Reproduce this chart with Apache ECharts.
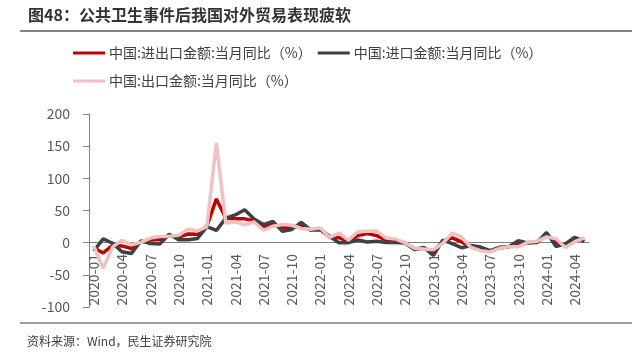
<!DOCTYPE html>
<html>
<head>
<meta charset="utf-8">
<script src="https://cdn.jsdelivr.net/npm/echarts@6/dist/echarts.min.js"></script>
<style>
  html, body { margin: 0; padding: 0; background: #fff; }
  #chart { width: 637px; height: 353px; }
</style>
</head>
<body>
<div id="chart"></div>
<script>
// 月份 2020-01 ~ 2024-05
const months = []
for (let y = 2020; y <= 2024; y++) {
  for (let m = 1; m <= 12; m++) {
    if (y === 2024 && m > 5) break
    months.push(y + '-' + String(m).padStart(2, '0'))
  }
}

const seriesNames = ['中国:进出口金额:当月同比（%）', '中国:进口金额:当月同比（%）', '中国:出口金额:当月同比（%）']

// 进出口
const totalYoy = [
  -8, -16, -4, -5, -9, 1, 4, 5, 11, 8.5, 13.5, 13,
  26, 68, 38, 37, 37, 34, 25, 29, 23, 24, 26, 20,
  22, 8, 8, 2, 11, 14, 11, 4, 3.4, -0.4, -9.5, -8.9,
  -14, 2, 7.4, 1.1, -6.2, -10, -13.6, -8.2, -6.2, -2.4, 0, 1.4,
  12, 1, -5.1, 4.4, 5.2
]
// 进口
const importYoy = [
  -13, 6, -0.9, -14.2, -16.7, 2.7, -1.4, -2.1, 13.2, 4.7, 4.5, 6.5,
  25, 19, 38.1, 43.1, 51.1, 36.7, 28.1, 33.1, 17.6, 20.6, 31.7, 19.5,
  20, 10, -0.1, 0, 4.1, 1, 2.3, 0.3, 0.3, -0.7, -10.6, -7.5,
  -20, 4, -1.4, -7.9, -4.5, -6.8, -12.4, -7.3, -6.2, 3, -0.6, 0.2,
  16, -6, -1.9, 8.4, 1.8
]
// 出口
const exportYoy = [
  -5, -40, -6.6, 3.5, -3.3, 0.5, 7.2, 9.5, 9.9, 11.4, 21.1, 18.1,
  25, 155, 30.6, 32.3, 27.9, 32.2, 19.3, 25.6, 28.1, 27.1, 22, 20.9,
  23, 8, 14.7, 3.9, 16.9, 17.9, 18, 7.1, 5.7, -0.3, -8.7, -9.9,
  -11, -1, 14.8, 8.5, -7.5, -12.4, -14.5, -8.8, -6.2, -6.4, 0.5, 2.3,
  9, 6, -7.5, 1.5, 7.6
]

const yTicks = { min: -100, max: 200, interval: 50 }
const colors = ['#c00000', '#404040', '#efc1c1']
const font = "'Noto Sans CJK SC', 'Noto Sans', sans-serif"

const chart = echarts.init(document.getElementById('chart'))

const legendBase = {
  left: 73,
  padding: 0,
  icon: 'rect',
  itemWidth: 32,
  itemHeight: 3,
  itemGap: 6,
  textStyle: { color: '#404040', fontSize: 14, fontFamily: font, padding: [0, 0, 0, -1] }
}

chart.setOption({
  animation: false,
  textStyle: { fontFamily: font },
  title: {
    text: '图48：公共卫生事件后我国对外贸易表现疲软',
    left: 23,
    top: 2,
    textStyle: { fontSize: 16, fontWeight: 'bold', color: '#333', fontFamily: font }
  },
  graphic: [
    { type: 'line', shape: { x1: 20, y1: 31, x2: 632, y2: 31 }, style: { stroke: '#595959', lineWidth: 1.5 } },
    { type: 'line', shape: { x1: 20, y1: 323, x2: 632, y2: 323 }, style: { stroke: '#7f7f7f', lineWidth: 1.5 } },
    {
      type: 'text', left: 27, top: 335,
      style: { text: '资料来源：Wind，民生证券研究院', fontSize: 12, fill: '#404040', fontFamily: font }
    }
  ],
  legend: [
    Object.assign({ top: 46, data: seriesNames.slice(0, 2) }, legendBase),
    Object.assign({ top: 74, data: seriesNames.slice(2) }, legendBase)
  ],
  grid: { left: 89, right: 48, top: 114, bottom: 46, outerBoundsMode: 'none' },
  xAxis: {
    type: 'category',
    data: months,
    boundaryGap: true,
    axisLine: { onZero: true, lineStyle: { color: '#808080', width: 1 } },
    axisTick: { interval: 2, length: 5, lineStyle: { color: '#808080' } },
    // 标签贴着零轴（按网格底边计算偏移）
    axisLabel: { interval: 2, rotate: 90, margin: -53, color: '#595959', fontSize: 14, fontFamily: font }
  },
  yAxis: {
    type: 'value',
    min: yTicks.min,
    max: yTicks.max,
    interval: yTicks.interval,
    splitLine: { show: false },
    axisLine: { show: true, lineStyle: { color: '#808080', width: 1 } },
    axisTick: { show: true, length: 6, lineStyle: { color: '#808080' } },
    axisLabel: { margin: 19, color: '#595959', fontSize: 14, fontFamily: font }
  },
  series: [
    { name: seriesNames[0], type: 'line', data: totalYoy, showSymbol: false, lineStyle: { width: 3.5, color: colors[0] }, itemStyle: { color: colors[0] } },
    { name: seriesNames[1], type: 'line', data: importYoy, showSymbol: false, lineStyle: { width: 3.5, color: colors[1] }, itemStyle: { color: colors[1] } },
    { name: seriesNames[2], type: 'line', data: exportYoy, showSymbol: false, lineStyle: { width: 3.5, color: colors[2] }, itemStyle: { color: colors[2] } }
  ]
})
</script>
</body>
</html>
